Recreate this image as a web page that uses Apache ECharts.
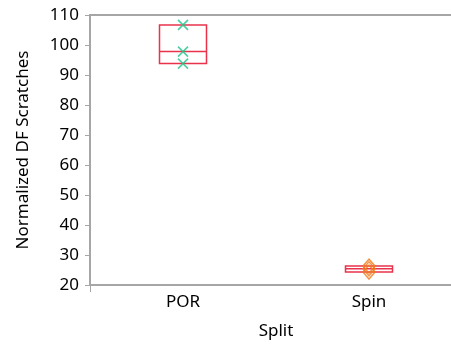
<!DOCTYPE html>
<html><head><meta charset="utf-8">
<script src="https://cdn.jsdelivr.net/npm/echarts@6/dist/echarts.min.js"></script>
<style>html,body{margin:0;padding:0;background:#fff}#c{width:451px;height:345px}</style>
</head><body><div id="c"></div>
<script>
const categories = ['POR', 'Spin'];
const porValues = [106.7, 97.8, 93.8];
const spinValues = [26.3, 25.4, 24.3];
const yTicks = [20, 30, 40, 50, 60, 70, 80, 90, 100, 110];
const xTitle = 'Split';
const yTitle = 'Normalized DF Scratches';

function five(v) {
  const s = v.slice().sort((a, b) => a - b);
  return [s[0], s[0], s[1], s[2], s[2]];
}
const font = 'Noto Sans';
const axisGray = '#a6a6a6';
const chart = echarts.init(document.getElementById('c'), null, {renderer: 'canvas'});
chart.setOption({
  animation: false,
  grid: {left: 90, top: 15, width: 372, height: 270, outerBoundsMode: 'none', containLabel: false,
         show: true, borderColor: axisGray, borderWidth: 2, backgroundColor: 'transparent'},
  xAxis: {
    type: 'category', data: categories,
    name: xTitle, nameLocation: 'middle', nameGap: 38,
    nameTextStyle: {fontFamily: font, fontSize: 17, color: '#000'},
    axisLine: {lineStyle: {color: axisGray, width: 1.5}},
    axisTick: {show: true, length: 7, interval: (i) => i === 1, lineStyle: {color: axisGray}},
    axisLabel: {fontFamily: font, fontSize: 17, color: '#000', margin: 9},
    splitLine: {show: false}
  },
  yAxis: {
    type: 'value', min: yTicks[0], max: yTicks[yTicks.length - 1], interval: 10,
    name: yTitle, nameLocation: 'middle', nameGap: 58,
    nameTextStyle: {fontFamily: font, fontSize: 17, color: '#000'},
    axisLine: {show: true, lineStyle: {color: axisGray, width: 1.5}},
    axisTick: {show: true, length: 5, lineStyle: {color: axisGray}},
    axisLabel: {fontFamily: font, fontSize: 17, color: '#000', margin: 11},
    splitLine: {show: false}
  },
  series: [
    {
      type: 'boxplot',
      data: [five(porValues), five(spinValues)],
      boxWidth: [47, 47],
      itemStyle: {color: 'transparent', borderColor: '#e8334a', borderWidth: 1.5}
    },
    {
      type: 'scatter',
      data: porValues.map(v => ['POR', v]),
      symbol: 'path://M0,0L10,10M10,0L0,10',
      symbolSize: 10,
      itemStyle: {color: 'transparent', borderColor: '#22c48c', borderWidth: 1.6}
    },
    {
      type: 'scatter',
      data: spinValues.map(v => ['Spin', v]),
      symbol: 'diamond',
      symbolSize: [12, 14],
      itemStyle: {color: 'transparent', borderColor: '#f07a1a', borderWidth: 1.5}
    }
  ]
});
</script></body></html>
